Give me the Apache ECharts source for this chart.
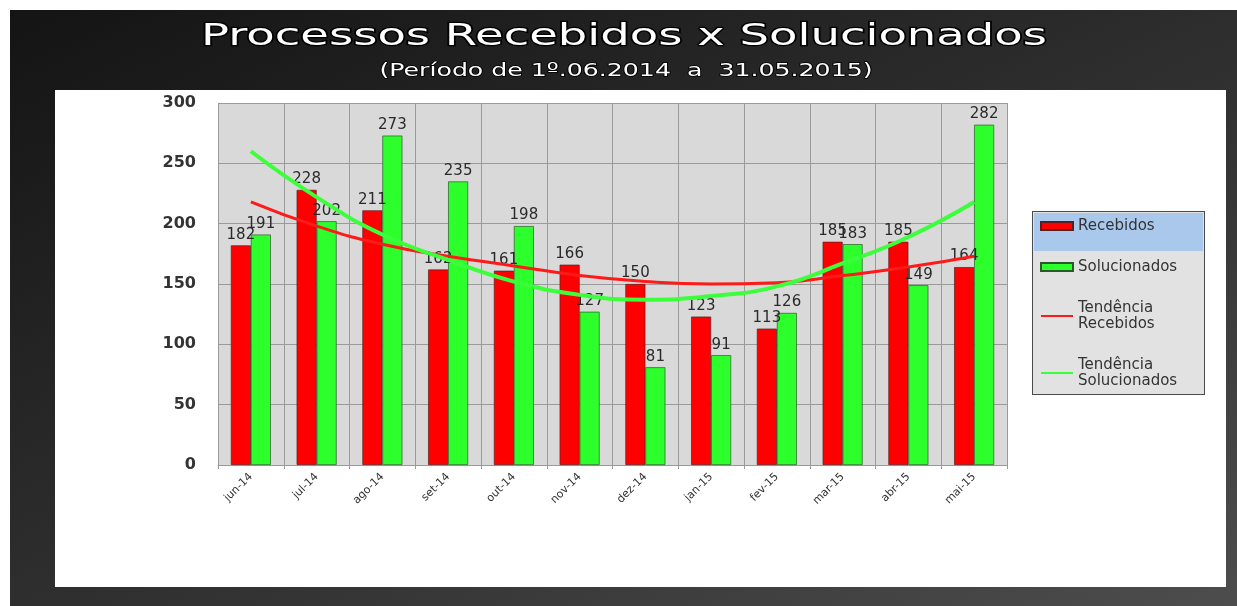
<!DOCTYPE html>
<html>
<head>
<meta charset="utf-8">
<script src="https://cdn.jsdelivr.net/npm/echarts@6/dist/echarts.min.js"></script>
<style>
  html, body { margin: 0; padding: 0; background: #ffffff; }
  #frame { position: absolute; left: 10px; top: 10px; width: 1227px; height: 596px;
    background: linear-gradient(155deg, #141414 0%, #262626 35%, #333333 60%, #4d4d4d 100%); }
  #panel { position: absolute; left: 55px; top: 90px; width: 1171px; height: 497px; background: #ffffff; }
  #legbox { position: absolute; left: 1032px; top: 211px; width: 171px; height: 182px;
    background: #e2e2e2; border: 1.5px solid #4a4a4a; }
  #legblue { position: absolute; left: 1px; top: 1px; width: 169px; height: 38px; background: #a9c8ec; }
  #chart { position: absolute; left: 0; top: 0; width: 1237px; height: 606px; }
</style>
</head>
<body>
<div id="frame"></div>
<div id="panel"></div>
<div id="legbox"><div id="legblue"></div></div>
<div id="chart"></div>
<script>
const categories = ['jun-14','jul-14','ago-14','set-14','out-14','nov-14','dez-14','jan-15','fev-15','mar-15','abr-15','mai-15'];
const recebidos = [182, 228, 211, 162, 161, 166, 150, 123, 113, 185, 185, 164];
const solucionados = [191, 202, 273, 235, 198, 127, 81, 91, 126, 183, 149, 282];
const tendenciaRecebidos = [218, 198, 183, 173, 165, 157, 152, 150, 151, 157, 164, 173];
const tendenciaSolucionados = [260, 222, 191, 170, 152, 141, 137, 140, 148, 167, 189, 218];
const yMin = 0, yMax = 300, yStep = 50;
const titleText = 'Processos Recebidos x Solucionados';
const subtitleText = '(Período de 1º.06.2014  a  31.05.2015)';

const chart = echarts.init(document.getElementById('chart'), null, { renderer: 'canvas' });
const font = 'DejaVu Sans, sans-serif';
const barLabel = { show: true, position: 'top', distance: 3, color: '#2a2a2a', fontSize: 15, fontFamily: font };

chart.setOption({
  backgroundColor: 'transparent',
  animation: false,
  graphic: [
    { type: 'text', x: 624, y: 37, scaleX: 1.5, z: 10,
      style: { text: titleText, fill: '#ffffff', font: '31px DejaVu Sans', align: 'center', verticalAlign: 'middle',
        stroke: '#000', lineWidth: 2.5 } },
    { type: 'text', x: 626, y: 71, scaleX: 1.4, z: 10,
      style: { text: subtitleText, fill: '#ffffff', font: '18px DejaVu Sans', align: 'center', verticalAlign: 'middle',
        stroke: '#000', lineWidth: 1.5 } }
  ],
  legend: {
    orient: 'vertical', left: 1040, top: 218, itemWidth: 32, itemHeight: 8, itemGap: 25,
    selectedMode: false, padding: 0,
    textStyle: { color: '#333', fontSize: 15, lineHeight: 16, fontFamily: font },
    formatter: n => n.replace(' ', '\n'),
    data: [
      { name: 'Recebidos', icon: 'rect' },
      { name: 'Solucionados', icon: 'rect' },
      { name: 'Tendência Recebidos', itemStyle: { opacity: 0 } },
      { name: 'Tendência Solucionados', itemStyle: { opacity: 0 } }
    ]
  },
  grid: { left: 218, right: 230, top: 103, bottom: 141, show: true, backgroundColor: '#d9d9d9', borderWidth: 0 },
  xAxis: {
    type: 'category', data: categories,
    axisLine: { show: true, lineStyle: { color: '#999', width: 1 } },
    axisTick: { show: true, length: 4, lineStyle: { color: '#999' } },
    axisLabel: { rotate: 45, fontSize: 11, color: '#333', margin: 10, fontFamily: font },
    splitLine: { show: true, lineStyle: { color: '#9a9a9a', width: 1 } }
  },
  yAxis: {
    type: 'value', min: yMin, max: yMax, interval: yStep,
    axisLine: { show: false }, axisTick: { show: false },
    axisLabel: { fontSize: 16, fontWeight: 'bold', color: '#333', margin: 22, fontFamily: font },
    splitLine: { show: true, lineStyle: { color: '#9a9a9a', width: 1 } }
  },
  series: [
    { name: 'Recebidos', type: 'bar', data: recebidos, barWidth: 20, barGap: '0%', z: 2,
      itemStyle: { color: '#ff0000', borderColor: '#5a2020', borderWidth: 0.7 }, label: barLabel },
    { name: 'Solucionados', type: 'bar', data: solucionados, barWidth: 20, z: 2,
      itemStyle: { color: '#2dff2d', borderColor: '#2a5a2a', borderWidth: 0.7 }, label: barLabel },
    { name: 'Tendência Recebidos', type: 'line', data: tendenciaRecebidos, smooth: true, symbol: 'none', z: 5,
      itemStyle: { color: '#ff1a1a' }, lineStyle: { color: '#ff1a1a', width: 3 } },
    { name: 'Tendência Solucionados', type: 'line', data: tendenciaSolucionados, smooth: true, symbol: 'none', z: 5,
      itemStyle: { color: '#3cff3c' }, lineStyle: { color: '#3cff3c', width: 4 } }
  ]
});
</script>
</body>
</html>
